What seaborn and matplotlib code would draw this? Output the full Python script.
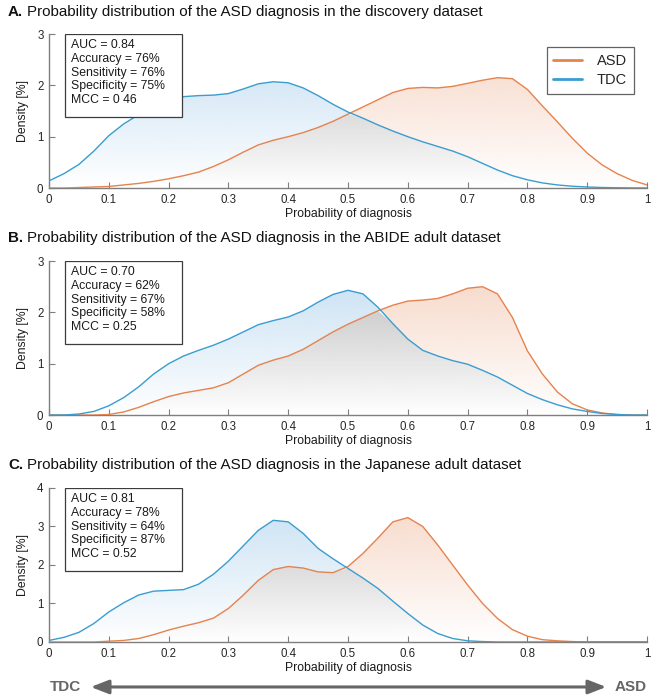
import numpy as np
import pandas as pd
import matplotlib
matplotlib.use("Agg")
import matplotlib.pyplot as plt
import seaborn as sns
from matplotlib.path import Path
from matplotlib.patches import Rectangle, FancyArrowPatch

# sample positions of the density curves (probability of diagnosis)
prob = np.linspace(0, 1, 41)

# A. discovery dataset
tdc_a = [0.14, 0.28, 0.46, 0.72, 1.02, 1.25, 1.43, 1.60, 1.72, 1.78, 1.80, 1.81, 1.84, 1.93,
         2.03, 2.07, 2.05, 1.95, 1.80, 1.63, 1.48, 1.36, 1.23, 1.11, 1.00, 0.90, 0.81, 0.72,
         0.61, 0.48, 0.35, 0.24, 0.16, 0.10, 0.06, 0.035, 0.02, 0.01, 0.005, 0.002, 0.0]
asd_a = [0.0, 0.0, 0.01, 0.02, 0.03, 0.06, 0.09, 0.13, 0.18, 0.24, 0.31, 0.42, 0.55, 0.70,
         0.84, 0.93, 1.00, 1.08, 1.18, 1.30, 1.44, 1.58, 1.72, 1.86, 1.94, 1.96, 1.95, 1.98,
         2.04, 2.10, 2.15, 2.13, 1.92, 1.60, 1.29, 0.97, 0.68, 0.45, 0.28, 0.15, 0.06]

# B. ABIDE adult dataset
tdc_b = [0.0, 0.0, 0.02, 0.07, 0.18, 0.34, 0.55, 0.80, 1.00, 1.15, 1.26, 1.36, 1.48, 1.62,
         1.76, 1.84, 1.91, 2.03, 2.20, 2.35, 2.43, 2.36, 2.10, 1.78, 1.48, 1.26, 1.15, 1.06,
         0.99, 0.87, 0.74, 0.58, 0.42, 0.30, 0.20, 0.12, 0.07, 0.03, 0.01, 0.0, 0.0]
asd_b = [0.0, 0.0, 0.0, 0.0, 0.01, 0.06, 0.15, 0.26, 0.36, 0.43, 0.48, 0.53, 0.63, 0.80,
         0.97, 1.07, 1.15, 1.28, 1.45, 1.62, 1.77, 1.90, 2.03, 2.14, 2.22, 2.24, 2.27, 2.36,
         2.47, 2.50, 2.36, 1.90, 1.25, 0.80, 0.45, 0.22, 0.10, 0.04, 0.01, 0.0, 0.0]

# C. Japanese adult dataset
tdc_c = [0.04, 0.12, 0.25, 0.48, 0.78, 1.02, 1.22, 1.32, 1.34, 1.36, 1.50, 1.76, 2.10, 2.50,
         2.90, 3.16, 3.12, 2.82, 2.43, 2.16, 1.91, 1.66, 1.39, 1.06, 0.74, 0.44, 0.22, 0.09,
         0.03, 0.01, 0.0, 0.0, 0.0, 0.0, 0.0, 0.0, 0.0, 0.0, 0.0, 0.0, 0.0]
asd_c = [0.0, 0.0, 0.0, 0.0, 0.02, 0.04, 0.09, 0.19, 0.31, 0.41, 0.50, 0.62, 0.87, 1.22,
         1.60, 1.88, 1.96, 1.92, 1.82, 1.80, 1.96, 2.30, 2.70, 3.12, 3.23, 3.00, 2.52, 2.00,
         1.48, 1.00, 0.61, 0.32, 0.15, 0.06, 0.03, 0.01, 0.0, 0.0, 0.0, 0.0, 0.0]

titles = ["Probability distribution of the ASD diagnosis in the discovery dataset",
          "Probability distribution of the ASD diagnosis in the ABIDE adult dataset",
          "Probability distribution of the ASD diagnosis in the Japanese adult dataset"]
letters = ["A.", "B.", "C."]
stats = ["AUC = 0.84\nAccuracy = 76%\nSensitivity = 76%\nSpecificity = 75%\nMCC = 0 46",
         "AUC = 0.70\nAccuracy = 62%\nSensitivity = 67%\nSpecificity = 58%\nMCC = 0.25",
         "AUC = 0.81\nAccuracy = 78%\nSensitivity = 64%\nSpecificity = 87%\nMCC = 0.52"]
ymax = [3, 3, 4]
xticks = [0, 0.1, 0.2, 0.3, 0.4, 0.5, 0.6, 0.7, 0.8, 0.9, 1]
xticklabels = ["0", "0.1", "0.2", "0.3", "0.4", "0.5", "0.6", "0.7", "0.8", "0.9", "1"]

panels = [(tdc_a, asd_a), (tdc_b, asd_b), (tdc_c, asd_c)]

sns.set_style("ticks")
plt.rcParams['font.family'] = ['Liberation Sans', 'DejaVu Sans']

ASD_COL = "#e5834f"
TDC_COL = "#3a9dd0"
GRAY = "#7f7f7f"


def gradient_region(ax, paths, rgb, top):
    if not paths:
        return
    grad = np.ones((256, 1, 4))
    grad[..., :3] = matplotlib.colors.to_rgb(rgb)
    grad[..., 3] = np.linspace(0, 1, 256)[:, None]
    im = ax.imshow(grad, extent=[0, 1, 0, top], origin='lower', aspect='auto',
                   interpolation='bilinear', zorder=1)
    im.set_clip_path(Path.make_compound_path(*paths), ax.transData)


fig = plt.figure(figsize=(6.59, 7.0), dpi=100)
bottoms = [0.7314, 0.4071, 0.0829]
title_y = [0.983, 0.660, 0.336]

for i, (tdc, asd) in enumerate(panels):
    ax = fig.add_axes([0.0744, bottoms[i], 0.9074, 0.22])
    tdc = np.array(tdc)
    asd = np.array(asd)
    low = np.minimum(tdc, asd)

    # region polygons (invisible), filled with vertical gradients
    p_b = ax.fill_between(prob, asd, tdc, where=tdc >= asd, interpolate=True,
                          facecolor='none', edgecolor='none')
    p_o = ax.fill_between(prob, tdc, asd, where=asd >= tdc, interpolate=True,
                          facecolor='none', edgecolor='none')
    p_g = ax.fill_between(prob, 0, low, facecolor='none', edgecolor='none')
    gradient_region(ax, p_b.get_paths(), "#c4def2", ymax[i])
    gradient_region(ax, p_o.get_paths(), "#f6d5c4", ymax[i])
    gradient_region(ax, p_g.get_paths(), "#b8b8b8", ymax[i])

    df = pd.DataFrame({
        "prob": np.concatenate([prob, prob]),
        "density": np.concatenate([asd, tdc]),
        "group": ["ASD"] * len(prob) + ["TDC"] * len(prob),
    })
    sns.lineplot(data=df, x="prob", y="density", hue="group",
                 palette={"ASD": ASD_COL, "TDC": TDC_COL}, linewidth=1.0,
                 ax=ax, legend=(i == 0), zorder=3)

    ax.set_xlim(0, 1)
    ax.set_ylim(0, ymax[i])
    ax.set_xticks(xticks)
    ax.set_xticklabels(xticklabels)
    ax.set_yticks(range(ymax[i] + 1))
    ax.tick_params(direction='in', length=4, color=GRAY, labelsize=8.3,
                   labelcolor="#262626", pad=4)
    sns.despine(ax=ax)
    for s in ["left", "bottom"]:
        ax.spines[s].set_color(GRAY)
        ax.spines[s].set_linewidth(1.0)
    ax.set_xlabel("Probability of diagnosis", fontsize=8.8, color="#1a1a1a", labelpad=2)
    ax.set_ylabel("Density [%]", fontsize=8.8, color="#1a1a1a", labelpad=6)

    # stats box
    ax.add_patch(Rectangle((0.027, 0.46), 0.195, 0.54, transform=ax.transAxes,
                           facecolor='white', edgecolor='#3c3c3c', lw=0.9, zorder=4))
    ax.text(0.036, 0.965, stats[i], transform=ax.transAxes, va='top', ha='left',
            fontsize=8.8, linespacing=1.18, color="#1a1a1a", zorder=5)

    if i == 0:
        handles, labels = ax.get_legend_handles_labels()
        for h in handles:
            h.set_linewidth(2.0)
        leg = ax.legend(handles, labels, loc='upper right', bbox_to_anchor=(0.99, 0.96),
                        fontsize=10.5, frameon=True, fancybox=False, handlelength=2.0,
                        borderpad=0.45, labelspacing=0.35, handletextpad=1.0)
        leg.get_frame().set_edgecolor('#3c3c3c')
        leg.get_frame().set_linewidth(0.9)
        leg.set_zorder(6)

    # panel title: bold letter then plain text
    t = fig.text(0.012, title_y[i], letters[i], fontsize=10.9, fontweight='bold',
                 va='center', ha='left', color="#111111")
    r = fig.canvas.get_renderer()
    bb = t.get_window_extent(renderer=r)
    fig.text((bb.x1 + 4) / fig.bbox.width, title_y[i], titles[i], fontsize=10.9,
             va='center', ha='left', color="#111111")

# bottom TDC <-> ASD arrow
arrow = FancyArrowPatch((88 / 659, 0.0186), (609 / 659, 0.0186), transform=fig.transFigure,
                        arrowstyle='<|-|>,head_length=0.9,head_width=0.35',
                        mutation_scale=12, lw=2.2, color='#666666')
fig.add_artist(arrow)
fig.text(50 / 659, 0.0186, "TDC", fontsize=11, fontweight='bold', color='#666666',
         va='center', ha='left')
fig.text(647 / 659, 0.0186, "ASD", fontsize=11, fontweight='bold', color='#666666',
         va='center', ha='right')

plt.savefig("out.png", dpi=100)
